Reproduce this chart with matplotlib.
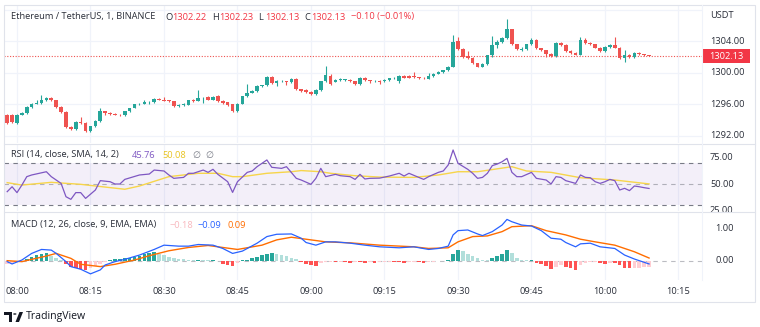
import matplotlib.pyplot as plt
from matplotlib.patches import Rectangle, Circle, Polygon
from matplotlib.lines import Line2D
import numpy as np

plt.rcParams['font.family'] = ['Open Sans', 'DejaVu Sans']

W, H = 760, 327

# one-minute candles, minutes counted from 08:00 (07:58 .. 10:09)
minutes = np.arange(-2, 130)
opens = [1294.7, 1294.7, 1293.6, 1294.7, 1294.9, 1295.7, 1296.1, 1296.2, 1296.5, 1296.8,
         1296.5, 1295.7, 1295.0, 1293.1, 1292.9, 1293.75, 1293.6, 1292.6, 1293.2, 1293.9,
         1295.1, 1294.9, 1294.8, 1294.7, 1294.6, 1295.1, 1295.55, 1296.0, 1296.1, 1296.25,
         1296.3, 1296.7, 1296.6, 1296.5, 1296.4, 1295.8, 1295.9, 1295.95, 1296.6, 1296.45,
         1296.75, 1296.9, 1296.55, 1297.0, 1296.45, 1296.25, 1296.0, 1295.1, 1296.1, 1297.0,
         1297.5, 1297.7, 1298.3, 1298.4, 1299.5, 1298.7, 1298.9, 1298.95, 1298.8, 1299.2,
         1297.9, 1297.8, 1297.6, 1297.3, 1297.8, 1298.9, 1299.6, 1298.85, 1299.1, 1299.1,
         1299.15, 1298.9, 1298.55, 1299.35, 1299.05, 1298.9, 1299.0, 1298.9, 1299.1, 1299.3,
         1299.0, 1299.6, 1299.6, 1299.6, 1299.45, 1299.4, 1299.25, 1299.6, 1299.9, 1300.1,
         1300.3, 1300.8, 1304.0, 1303.0, 1302.1, 1301.9, 1301.2, 1300.8, 1301.1, 1302.2,
         1303.5, 1303.9, 1304.4, 1305.5, 1303.6, 1302.9, 1303.05, 1303.6, 1304.2, 1303.1,
         1302.85, 1302.4, 1302.1, 1303.8, 1303.5, 1302.8, 1302.5, 1302.3, 1304.2, 1303.8,
         1303.6, 1303.2, 1302.8, 1303.3, 1303.5, 1303.2, 1301.9, 1302.3, 1302.0, 1302.5,
         1302.35, 1302.22]
highs = [1294.8, 1294.8, 1294.8, 1295.0, 1295.8, 1296.2, 1296.5, 1297.2, 1296.9, 1296.9,
         1296.6, 1295.8, 1295.1, 1293.2, 1293.9, 1294.4, 1293.7, 1293.3, 1294.0, 1295.5,
         1295.2, 1295.0, 1294.9, 1294.8, 1295.2, 1295.6, 1296.1, 1296.2, 1296.6, 1296.4,
         1296.8, 1296.8, 1296.9, 1296.6, 1296.45, 1296.0, 1296.2, 1296.6, 1296.7, 1297.8,
         1296.9, 1297.0, 1297.0, 1297.2, 1296.5, 1296.3, 1296.1, 1296.2, 1297.1, 1298.6,
         1297.8, 1298.4, 1298.5, 1299.6, 1299.6, 1299.1, 1299.1, 1299.0, 1299.3, 1299.3,
         1298.0, 1297.9, 1297.7, 1297.9, 1299.0, 1300.9, 1299.9, 1299.2, 1299.3, 1299.2,
         1299.2, 1299.0, 1299.5, 1299.5, 1299.1, 1299.1, 1299.1, 1299.2, 1299.4, 1299.45,
         1299.7, 1299.7, 1299.7, 1300.1, 1299.5, 1299.5, 1299.95, 1300.0, 1300.2, 1300.4,
         1300.9, 1304.8, 1304.6, 1303.1, 1302.8, 1302.0, 1301.3, 1301.2, 1302.3, 1304.7,
         1304.2, 1304.6, 1306.8, 1305.6, 1303.7, 1303.3, 1303.7, 1304.4, 1304.3, 1303.2,
         1302.9, 1302.5, 1303.9, 1303.9, 1303.6, 1302.9, 1302.6, 1304.5, 1304.4, 1303.9,
         1303.7, 1303.3, 1303.4, 1303.6, 1304.5, 1303.3, 1302.9, 1302.4, 1302.6, 1302.7,
         1302.4, 1302.23]
lows = [1293.5, 1293.6, 1293.5, 1294.6, 1294.8, 1295.6, 1296.0, 1296.1, 1296.4, 1296.4,
        1295.6, 1294.9, 1293.0, 1292.8, 1292.8, 1293.5, 1292.5, 1292.5, 1293.1, 1293.8,
        1294.6, 1294.6, 1294.6, 1294.5, 1294.5, 1295.0, 1295.5, 1295.9, 1296.0, 1296.1,
        1296.2, 1296.5, 1296.4, 1296.3, 1295.7, 1295.7, 1295.8, 1295.9, 1296.3, 1296.4,
        1296.2, 1296.5, 1296.5, 1296.3, 1296.1, 1295.8, 1295.0, 1295.0, 1296.0, 1296.9,
        1297.4, 1297.6, 1298.2, 1298.3, 1298.6, 1298.3, 1298.8, 1298.4, 1298.7, 1297.8,
        1297.6, 1297.5, 1297.2, 1297.2, 1297.7, 1298.8, 1298.5, 1298.8, 1299.0, 1299.0,
        1298.85, 1298.5, 1298.5, 1299.0, 1298.7, 1298.8, 1298.55, 1298.8, 1299.0, 1299.2,
        1298.7, 1299.3, 1299.3, 1299.4, 1299.2, 1299.2, 1299.2, 1299.5, 1299.8, 1300.0,
        1300.2, 1300.7, 1302.9, 1301.9, 1301.8, 1301.1, 1300.7, 1300.7, 1301.0, 1302.0,
        1303.2, 1303.8, 1304.3, 1303.5, 1302.9, 1302.8, 1302.9, 1303.5, 1303.0, 1302.75,
        1302.0, 1302.0, 1302.0, 1303.4, 1302.7, 1302.4, 1302.2, 1302.2, 1303.7, 1303.5,
        1303.1, 1302.7, 1302.7, 1303.2, 1303.1, 1301.8, 1301.4, 1301.9, 1301.9, 1302.3,
        1302.1, 1302.13]
closes = [1293.6, 1293.7, 1294.7, 1294.9, 1295.7, 1296.1, 1296.2, 1296.5, 1296.8, 1296.5,
          1295.7, 1295.0, 1293.1, 1292.9, 1293.75, 1293.6, 1292.6, 1293.2, 1293.9, 1295.1,
          1294.9, 1294.8, 1294.7, 1294.6, 1295.1, 1295.55, 1296.0, 1296.1, 1296.25, 1296.3,
          1296.7, 1296.6, 1296.45, 1296.4, 1295.8, 1295.9, 1296.0, 1296.5, 1296.45, 1296.75,
          1296.85, 1296.6, 1296.9, 1296.4, 1296.2, 1295.9, 1295.1, 1296.1, 1297.0, 1297.5,
          1297.7, 1298.3, 1298.4, 1299.5, 1298.7, 1298.9, 1299.0, 1298.8, 1299.2, 1297.9,
          1297.7, 1297.6, 1297.3, 1297.8, 1298.9, 1299.7, 1298.6, 1299.15, 1299.2, 1299.15,
          1298.9, 1298.6, 1299.4, 1299.05, 1298.9, 1299.0, 1298.85, 1299.1, 1299.3, 1299.35,
          1299.6, 1299.35, 1299.4, 1299.45, 1299.3, 1299.3, 1299.6, 1299.9, 1300.1, 1300.3,
          1300.8, 1303.9, 1303.0, 1302.0, 1301.9, 1301.2, 1300.8, 1301.1, 1302.2, 1303.5,
          1303.9, 1304.4, 1305.5, 1303.6, 1303.0, 1303.05, 1303.6, 1304.2, 1303.1, 1302.85,
          1302.4, 1302.1, 1303.8, 1303.5, 1302.8, 1302.5, 1302.3, 1304.2, 1303.8, 1303.6,
          1303.2, 1302.8, 1303.3, 1303.5, 1303.2, 1301.9, 1302.3, 1302.0, 1302.5, 1302.35,
          1302.23, 1302.13]

# RSI(14) and its SMA(14), sampled at the turning points of each line
rsi_t = [-2, -1, 0, 1, 2, 3, 6, 7, 9, 10, 11, 12, 13, 14, 16, 17, 19, 20, 21, 22,
         25, 27, 28, 30, 31, 32, 34, 35, 36, 38, 39, 40, 41, 43, 44, 45, 47, 48, 49, 51,
         52, 54, 55, 57, 58, 60, 61, 62, 63, 65, 66, 68, 69, 70, 71, 72, 74, 76, 78, 79,
         80, 82, 83, 84, 86, 87, 88, 89, 90, 92, 93, 94, 95, 96, 97, 98, 99, 100, 101, 102,
         103, 105, 106, 108, 109, 110, 111, 112, 114, 115, 116, 117, 118, 119, 120, 121, 122, 123, 124, 125,
         126, 127, 128, 129]
rsi_v = [42.7, 47.4, 41.8, 49.0, 57.0, 58.6, 61.7, 57.0, 50.6, 37.9, 35.4, 41.8, 41.8, 36.3, 44.3, 53.2, 52.2, 50.0, 50.0, 54.4,
         58.6, 59.5, 63.3, 62.4, 58.6, 55.4, 56.3, 60.2, 60.2, 63.3, 61.1, 64.0, 59.2, 52.2, 42.0, 52.2, 61.1, 62.4, 66.5, 72.9,
         65.9, 64.9, 66.5, 55.4, 53.8, 49.7, 55.4, 64.9, 57.0, 59.2, 57.9, 57.0, 54.4, 59.2, 54.8, 55.4, 55.6, 57.6, 60.2, 57.6,
         60.2, 56.3, 54.4, 57.0, 61.1, 62.4, 68.1, 82.4, 69.7, 64.0, 60.2, 55.4, 56.3, 60.2, 67.5, 69.0, 71.2, 74.4, 61.1, 57.0,
         57.0, 61.1, 55.4, 53.8, 50.0, 57.0, 56.3, 53.2, 50.6, 58.6, 56.3, 56.0, 52.2, 50.6, 52.2, 54.4, 53.2, 44.3, 45.9, 43.7,
         48.1, 47.4, 46.5, 45.76]
rsi_sma_t = [-2, 1, 7, 13, 22, 25, 31, 37, 41, 44, 46, 51, 56, 58, 62, 64, 69, 74, 81, 86,
             90, 94, 101, 104, 109, 115, 122, 129]
rsi_sma_v = [51.3, 49.0, 51.6, 49.7, 45.0, 48.1, 57.0, 60.2, 60.2, 57.0, 57.0, 60.2, 61.7, 62.8, 61.7, 60.2, 57.9, 56.6, 56.3, 58.6,
             61.7, 61.7, 66.5, 62.4, 61.1, 56.0, 53.8, 50.08]

# MACD(12, 26, 9): MACD and signal lines at their turning points, histogram per candle
macd_t = [-2, -1, 1, 3, 5, 7, 8, 10, 11, 13, 15, 17, 18, 20, 22, 25, 28, 30, 33, 35,
          37, 40, 42, 44, 46, 47, 49, 51, 53, 56, 58, 59, 61, 63, 65, 68, 71, 74, 78, 81,
          84, 86, 88, 89, 90, 92, 94, 95, 97, 99, 100, 101, 103, 105, 107, 109, 111, 112, 114, 115,
          117, 119, 122, 124, 126, 129]
macd_v = [-0.02, -0.09, 0.03, 0.23, 0.35, 0.33, 0.23, -0.02, -0.17, -0.25, -0.39, -0.27, -0.12, -0.02, 0.05, 0.18, 0.35, 0.48, 0.45, 0.45,
          0.50, 0.48, 0.38, 0.23, 0.30, 0.38, 0.54, 0.74, 0.81, 0.82, 0.69, 0.56, 0.48, 0.58, 0.58, 0.54, 0.48, 0.43, 0.40, 0.43,
          0.35, 0.38, 0.45, 0.79, 0.92, 0.94, 0.82, 0.77, 0.89, 1.09, 1.26, 1.19, 1.09, 1.06, 0.92, 0.69, 0.66, 0.56, 0.43, 0.52,
          0.54, 0.43, 0.38, 0.18, 0.06, -0.09]
signal_t = [-2, 1, 3, 6, 8, 11, 13, 17, 20, 24, 27, 31, 35, 39, 42, 45, 50, 53, 56, 60,
            63, 68, 74, 81, 84, 88, 90, 93, 96, 99, 101, 105, 108, 112, 115, 118, 122, 126, 129]
signal_v = [0.01, -0.02, 0.05, 0.15, 0.23, 0.08, -0.10, -0.17, -0.10, 0.03, 0.16, 0.31, 0.41, 0.47, 0.41, 0.35, 0.48, 0.64, 0.72, 0.64,
            0.58, 0.55, 0.48, 0.43, 0.38, 0.40, 0.58, 0.74, 0.76, 0.89, 1.04, 1.07, 0.92, 0.79, 0.66, 0.58, 0.48, 0.28, 0.09]
hist = [-0.08, -0.07, -0.03, -0.02, 0.06, 0.12, 0.18, 0.22, 0.24, 0.15,
        0.08, 0.04, -0.08, -0.18, -0.22, -0.25, -0.26, -0.20, -0.15, -0.10,
        -0.04, 0.03, 0.05, 0.06, 0.08, 0.10, 0.12, 0.16, 0.20, 0.25,
        0.27, 0.22, 0.17, 0.12, 0.08, 0.06, 0.05, 0.04, 0.03, 0.04,
        0.03, 0.02, 0.02, 0.01, -0.08, -0.12, -0.14, -0.07, 0.02, 0.04,
        0.08, 0.12, 0.17, 0.22, 0.24, 0.21, 0.18, 0.14, 0.10, 0.05,
        -0.03, -0.08, -0.12, -0.15, -0.06, -0.03, -0.02, -0.03, -0.02, -0.04,
        -0.05, -0.03, -0.04, -0.05, -0.03, -0.05, -0.04, -0.03, -0.02, -0.03,
        -0.04, -0.05, -0.03, -0.02, -0.04, -0.05, -0.04, -0.02, -0.01, 0.01,
        0.03, 0.20, 0.33, 0.30, 0.22, 0.15, 0.09, 0.04, 0.02, 0.08,
        0.14, 0.22, 0.34, 0.24, 0.10, 0.04, 0.02, 0.03, -0.05, -0.10,
        -0.15, -0.24, -0.18, -0.12, -0.18, -0.22, -0.27, -0.12, -0.07, -0.04,
        -0.03, -0.06, -0.08, -0.05, -0.07, -0.13, -0.20, -0.22, -0.21, -0.20,
        -0.19, -0.18]

time_ticks = [0, 15, 30, 45, 60, 75, 90, 105, 120, 135]
time_labels = ['08:00', '08:15', '08:30', '08:45', '09:00', '09:15', '09:30', '09:45', '10:00', '10:15']
price_ticks = [1292, 1296, 1300, 1304]
rsi_ticks = [25, 50, 75]
macd_ticks = [0, 1]

UP = '#26a69a'
DOWN = '#ef5350'
GRID = '#f0f3fa'
BORDER = '#e0e3eb'
TEXT = '#2a2e39'
PURPLE = '#7e57c2'
YELLOW = '#f7d54a'
BLUE = '#2962ff'
ORANGE = '#ff6d00'
GRAY = '#787b86'

XLIM = (-2.65, 139.8)


def fbox(l, t, r, b):
    # pixel box (top-left origin) -> figure fraction rect
    return [l / W, 1 - b / H, (r - l) / W, (b - t) / H]


def ftext(x, y, s, **kw):
    kw.setdefault('fontsize', 6.7)
    kw.setdefault('color', TEXT)
    kw.setdefault('va', 'center')
    fig.text(x / W, 1 - y / H, s, **kw)


def fline(x0, y0, x1, y1, color=BORDER, lw=0.8):
    fig.add_artist(Line2D([x0 / W, x1 / W], [1 - y0 / H, 1 - y1 / H], color=color, lw=lw))


def pane(l, t, r, b, ylim):
    ax = fig.add_axes(fbox(l, t, r, b))
    ax.set_xlim(*XLIM)
    ax.set_ylim(*ylim)
    ax.axis('off')
    for tt in time_ticks:
        ax.axvline(tt, color=GRID, lw=0.9, zorder=0)
    return ax


def scale(t, b, ylim):
    ax = fig.add_axes(fbox(702, t, 755, b))
    ax.set_xlim(0, 53)
    ax.set_ylim(*ylim)
    ax.axis('off')
    return ax


fig = plt.figure(figsize=(W / 100, H / 100), dpi=100)
fig.patch.set_facecolor('white')

# price pane
ylim_p = (1291.1, 1308.6)
ax_p = pane(4, 5, 702, 143, ylim_p)
for p in price_ticks + [1308]:
    ax_p.axhline(p, color=GRID, lw=0.9, zorder=0)
o = np.array(opens)
c = np.array(closes)
col = np.where(c >= o, UP, DOWN)
ax_p.vlines(minutes, lows, highs, colors=col, lw=0.8, zorder=2)
ax_p.bar(minutes, np.maximum(np.abs(c - o), 0.07), bottom=np.minimum(o, c),
         width=0.74, color=col, lw=0, zorder=3)
ax_p.axhline(closes[-1], color=DOWN, lw=0.8, ls=(0, (1, 1.5)), zorder=1)

# RSI pane
ylim_r = (24.3, 88.1)
ax_r = pane(4, 144, 702, 211, ylim_r)
ax_r.axhspan(30, 70, color=PURPLE, alpha=0.09, lw=0, zorder=0)
for lvl, a in [(70, 1.0), (50, 0.55), (30, 1.0)]:
    ax_r.axhline(lvl, color=GRAY, lw=0.8, ls=(0, (4, 4)), alpha=a, zorder=1)
ax_r.plot(rsi_sma_t, rsi_sma_v, color=YELLOW, lw=1.0, zorder=2)
ax_r.plot(rsi_t, rsi_v, color=PURPLE, lw=0.9, zorder=3)

# MACD pane
ylim_m = (-0.576, 1.485)
ax_m = pane(4, 212, 702, 280, ylim_m)
hv = np.array(hist)
prev = np.concatenate([[hv[0]], hv[:-1]])
hcol = np.where(hv >= 0, np.where(hv >= prev, UP, '#b2dfdb'),
                np.where(hv < prev, '#ff5252', '#ffcdd2'))
ax_m.bar(minutes, hv, width=0.74, color=hcol, lw=0, zorder=1)
ax_m.axhline(0, color=GRAY, lw=0.8, ls=(0, (4, 4)), alpha=0.5, zorder=0.5)
ax_m.plot(signal_t, signal_v, color=ORANGE, lw=1.0, zorder=2)
ax_m.plot(macd_t, macd_v, color=BLUE, lw=0.9, zorder=3)

# time scale
ax_t = fig.add_axes(fbox(4, 280, 702, 302))
ax_t.set_xlim(*XLIM)
ax_t.set_ylim(0, 1)
ax_t.axis('off')
for tt, lab in zip(time_ticks, time_labels):
    ax_t.text(tt, 0.5, lab, ha='center', va='center', fontsize=6.7, color=TEXT)

# right-hand scales
ax_pa = scale(5, 143, ylim_p)
for p in price_ticks:
    ax_pa.text(8, p, f'{p:.2f}', va='center', fontsize=6.7, color=TEXT)
ax_pa.add_patch(Rectangle((0, closes[-1] - 0.85), 48, 1.7, color='#f23645', lw=0))
ax_pa.text(24, closes[-1], f'{closes[-1]:.2f}', ha='center', va='center',
           fontsize=6.7, color='white')
ftext(710, 16, 'USDT')

ax_ra = scale(144, 211, ylim_r)
for v in rsi_ticks:
    ax_ra.text(8, v, f'{v:.2f}', va='center', fontsize=6.7, color=TEXT, clip_on=False)

ax_ma = scale(212, 280, ylim_m)
for v in macd_ticks:
    ax_ma.text(13, v, f'{v:.2f}', va='center', fontsize=6.7, color=TEXT)

# frame and pane separators
fig.add_artist(Rectangle((4 / W, 1 - 302 / H), 751 / W, 297 / H, fill=False,
                         edgecolor=BORDER, lw=0.8))
fline(4, 143.5, 755, 143.5)
fline(4, 211.5, 755, 211.5)
fline(702, 5, 702, 280, color='#f0f3fa')

# legends
ftext(11, 17, 'Ethereum / TetherUS, 1, BINANCE')
for x, key, val in [(165, 'O', opens[-1]), (212, 'H', highs[-1]),
                    (258, 'L', lows[-1]), (304, 'C', closes[-1])]:
    ftext(x, 17, key)
    ftext(x + 7.5, 17, f'{val:.2f}', color='#f23645')
chg = closes[-1] - closes[-2]
ftext(351, 17, f'\u2212{abs(chg):.2f} (\u2212{abs(chg) / closes[-2] * 100:.2f}%)', color='#f23645')

ftext(11, 155, 'RSI (14, close, SMA, 14, 2)')
ftext(132, 155, f'{rsi_v[-1]:.2f}', color=PURPLE)
ftext(162, 155, f'{rsi_sma_v[-1]:.2f}', color='#e8c31e')
ftext(192, 155, '\u2205', color=GRAY)
ftext(205, 155, '\u2205', color=GRAY)

ftext(11, 225, 'MACD (12, 26, close, 9, EMA, EMA)')
ftext(170, 225, f'\u2212{abs(hist[-1]):.2f}', color='#f8b7bd')
ftext(198, 225, f'\u2212{abs(macd_v[-1]):.2f}', color=BLUE)
ftext(228, 225, f'{signal_v[-1]:.2f}', color=ORANGE)

# TradingView mark
fig.add_artist(Rectangle((4 / W, 1 - 315 / H), 8 / W, 3 / H, color='#131722', lw=0))
fig.add_artist(Rectangle((8.5 / W, 1 - 322 / H), 3 / W, 9 / H, color='#131722', lw=0))
fig.add_artist(Circle((14.8 / W, 1 - 314 / H), 1.7 / W, color='#131722', lw=0))
fig.add_artist(Polygon([(15.5 / W, 1 - 322 / H), (19.5 / W, 1 - 312 / H),
                        (23 / W, 1 - 312 / H), (19 / W, 1 - 322 / H)],
                       closed=True, color='#131722', lw=0))
ftext(26, 317, 'TradingView', fontsize=7.6, color='#131722')

fig.savefig('out.png', dpi=100, facecolor='white')
